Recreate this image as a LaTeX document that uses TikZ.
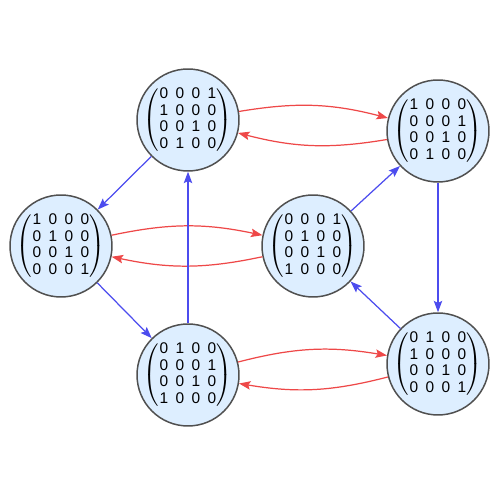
\documentclass[tikz,border=0pt]{standalone}
\usepackage{fontspec}
\setmainfont{Liberation Sans}
\usepackage{xcolor}
\usetikzlibrary{arrows.meta}
\definecolor{nodefill}{HTML}{DDEEFF}
\definecolor{nodeedge}{HTML}{505050}
\definecolor{swapred}{HTML}{EE4848}
\definecolor{cycblue}{HTML}{4C4CEE}
% node centres (1 unit = 1px of the reference)
\newcommand{\toppos}{(188,369)}
\newcommand{\trpos}{(438,358)}
\newcommand{\leftpos}{(61,243)}
\newcommand{\ctrpos}{(313,243)}
\newcommand{\blpos}{(188,114)}
\newcommand{\brpos}{(438,125)}
\newcommand{\permmat}[4]{%
  {\fontsize{8.8}{9.4}\selectfont
   \setlength{\tabcolsep}{2.1pt}%
   $\left(\begin{tabular}{@{\hspace{0.3pt}}cccc@{\hspace{0.3pt}}}
     #1\\#2\\#3\\#4
   \end{tabular}\right)$}%
}

\begin{document}
\begin{tikzpicture}[x=0.02cm,y=0.02cm,
    perm/.style={circle,draw=nodeedge,fill=nodefill,line width=0.85pt,
      minimum size=2.04cm,inner sep=-12pt},
    tip/.style={-{Stealth[length=6.5pt,width=4.8pt,inset=1.2pt]}},
    swap/.style={draw=swapred,line width=0.7pt,tip,bend left=12},
    cyc/.style={draw=cycblue,line width=0.7pt,tip}]
    \useasboundingbox (0,0) rectangle (500,489);
    % permutation matrices
    \node (mattop) at \toppos [perm]
      {\permmat{0&0&0&1}{1&0&0&0}{0&0&1&0}{0&1&0&0}};
    \node (mattr) at \trpos [perm]
      {\permmat{1&0&0&0}{0&0&0&1}{0&0&1&0}{0&1&0&0}};
    \node (matid) at \leftpos [perm]
      {\permmat{1&0&0&0}{0&1&0&0}{0&0&1&0}{0&0&0&1}};
    \node (matctr) at \ctrpos [perm]
      {\permmat{0&0&0&1}{0&1&0&0}{0&0&1&0}{1&0&0&0}};
    \node (matbl) at \blpos [perm]
      {\permmat{0&1&0&0}{0&0&0&1}{0&0&1&0}{1&0&0&0}};
    \node (matbr) at \brpos [perm]
      {\permmat{0&1&0&0}{1&0&0&0}{0&0&1&0}{0&0&0&1}};
    % red pairs
    \draw[swap] (mattop) to (mattr);
    \draw[swap] (mattr) to (mattop);
    \draw[swap] (matid) to (matctr);
    \draw[swap] (matctr) to (matid);
    \draw[swap] (matbl) to (matbr);
    \draw[swap] (matbr) to (matbl);
    % blue cycles
    \draw[cyc] (mattop) -- (matid);
    \draw[cyc] (matid) -- (matbl);
    \draw[cyc] (matbl) -- (mattop);
    \draw[cyc] (matctr) -- (mattr);
    \draw[cyc] (mattr) -- (matbr);
    \draw[cyc] (matbr) -- (matctr);
\end{tikzpicture}
\end{document}
